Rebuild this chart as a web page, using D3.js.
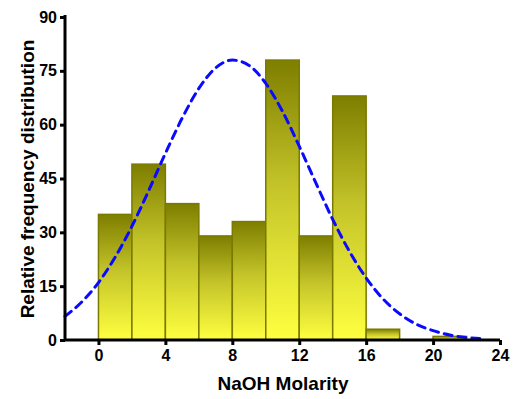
<!DOCTYPE html>
<html><head><meta charset="utf-8">
<script src="https://cdn.jsdelivr.net/npm/d3@7"></script>
<style>body{margin:0;background:#fff}svg{display:block}</style>
</head><body><svg id="c" width="518" height="399"></svg>
<script>
const binStarts = [0, 2, 4, 6, 8, 10, 12, 14, 16, 18, 20];
const binWidth = 2;
const frequencies = [35, 49, 38, 29, 33, 78, 29, 68, 3, 0, 1];
const curveX = [-2,-1,0,1,2,3,4,5,6,7,8,9,10,11,12,13,14,15,16,17,18,19,20,21,22,23];
const curveY = [6.6,10.6,16.0,23.1,31.7,41.6,52.0,61.8,70.1,75.8,78.0,76.5,71.5,63.7,54.0,43.7,33.6,24.7,17.3,11.5,7.3,4.4,2.6,1.4,0.7,0.4];
const xTicks = [0, 4, 8, 12, 16, 20, 24];
const yTicks = [0, 15, 30, 45, 60, 75, 90];
const xLabel = "NaOH Molarity";
const yLabel = "Relative frequency distribution";

const svg = d3.select("#c");
const x = d3.scaleLinear().domain([-2, 24]).range([65, 500]);
const y = d3.scaleLinear().domain([0, 90]).range([340, 17]);

const defs = svg.append("defs");
const g = defs.append("linearGradient").attr("id","bg").attr("x1",0).attr("y1",0).attr("x2",0).attr("y2",1);
g.append("stop").attr("offset","0%").attr("stop-color","#7e7e00");
g.append("stop").attr("offset","45%").attr("stop-color","#c4c42a");
g.append("stop").attr("offset","100%").attr("stop-color","#ffff40");

svg.append("g").selectAll("rect").data(binStarts.map((s,i)=>({s, v:frequencies[i]})).filter(d=>d.v>0))
  .join("rect")
  .attr("x", d=>x(d.s))
  .attr("width", d=>x(d.s+binWidth)-x(d.s))
  .attr("y", d=>y(d.v))
  .attr("height", d=>y(0)-y(d.v))
  .attr("fill","url(#bg)")
  .attr("stroke","#7a7a00")
  .attr("stroke-width",1.5);

const line = d3.line().x(d=>x(d[0])).y(d=>y(d[1])).curve(d3.curveMonotoneX);
svg.append("path").datum(curveX.map((v,i)=>[v,curveY[i]]))
  .attr("d", line).attr("fill","none").attr("stroke","#0a0aff")
  .attr("stroke-width",3).attr("stroke-dasharray","8,6").attr("stroke-linecap","round");

const font = "Arial, 'Liberation Sans', sans-serif";
const xa = svg.append("g").attr("transform","translate(0,340)")
  .call(d3.axisBottom(x).tickValues(xTicks).tickSize(5).tickPadding(5).tickFormat(d3.format("d")));
const ya = svg.append("g").attr("transform","translate(65,0)")
  .call(d3.axisLeft(y).tickValues(yTicks).tickSize(5).tickPadding(3).tickFormat(d3.format("d")));
[xa, ya].forEach(a=>{
  a.select(".domain").attr("stroke","#000").attr("stroke-width",3);
  a.selectAll(".tick line").attr("stroke","#000").attr("stroke-width",3);
  a.selectAll(".tick text").attr("fill","#000").style("font-family",font).style("font-weight","bold").style("font-size","16px");
});
xa.select(".domain").attr("d", `M${x(-2)-1},0H${x(24)}`);
ya.select(".domain").attr("d", `M0,${y(90)-2}V${y(0)+1}`);

svg.append("text").attr("x", 283).attr("y", 390).attr("text-anchor","middle")
  .style("font-family",font).style("font-weight","bold").style("font-size","19px").text(xLabel);
svg.append("text").attr("transform","translate(34,179) rotate(-90)").attr("text-anchor","middle")
  .style("font-family",font).style("font-weight","bold").style("font-size","19px").text(yLabel);
</script></body></html>
